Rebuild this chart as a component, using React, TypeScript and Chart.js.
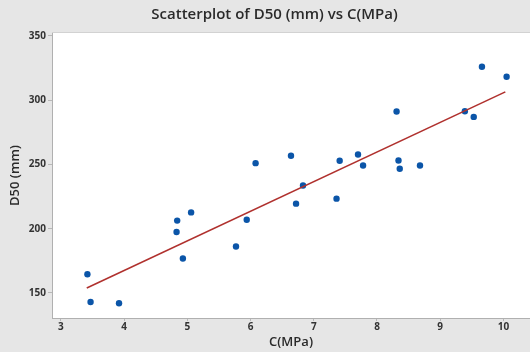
import React, { useEffect, useRef } from "react";
import { Chart, registerables } from "chart.js";

Chart.register(...registerables);

const cValues = [3.42, 3.47, 3.92, 4.83, 4.84, 4.93, 5.06, 5.77, 5.94, 6.08, 6.64, 6.72, 6.83, 7.36, 7.41, 7.70, 7.78, 8.31, 8.34, 8.36, 8.68, 9.39, 9.53, 9.66, 10.05];
const d50Values = [164.6, 143, 142, 197.4, 206.3, 176.8, 212.7, 186.2, 207, 251, 256.8, 219.5, 233.6, 223.4, 252.9, 257.8, 249.2, 291.2, 253.1, 246.6, 249.2, 291.4, 287, 326, 318.2];
const fitX = [3.41, 10.03];
const fitY = [153.9, 306.5];
const xTicks = [3, 4, 5, 6, 7, 8, 9, 10];
const yTicks = [150, 200, 250, 300, 350];

const TITLE = "Scatterplot of D50 (mm) vs C(MPa)";
const FONT = "'Open Sans', 'DejaVu Sans', sans-serif";

export default function App() {
  const ref = useRef<HTMLCanvasElement | null>(null);
  useEffect(() => {
    document.body.style.margin = "0";
    const canvas = ref.current!;
    const bgPlugin = {
      id: "bg",
      beforeDraw(chart: any) {
        const { ctx, chartArea: a } = chart;
        ctx.save();
        ctx.fillStyle = "#e6e6e6";
        ctx.fillRect(0, 0, chart.width, chart.height);
        ctx.fillStyle = "#ffffff";
        ctx.fillRect(a.left, a.top, a.right - a.left, a.bottom - a.top);
        ctx.strokeStyle = "#d2d2d2";
        ctx.lineWidth = 1;
        ctx.beginPath();
        ctx.moveTo(a.left, a.top - 0.5);
        ctx.lineTo(a.right, a.top - 0.5);
        ctx.stroke();
        ctx.restore();
      },
      afterDraw(chart: any) {
        const { ctx } = chart;
        ctx.save();
        ctx.fillStyle = "#2a2a2a";
        ctx.font = `600 15px ${FONT}`;
        ctx.textAlign = "center";
        ctx.textBaseline = "middle";
        ctx.fillText(TITLE, 274.5, 14.5);
        ctx.restore();
      },
    };
    const chart = new Chart(canvas, {
      type: "scatter",
      data: {
        datasets: [
          {
            type: "line",
            label: "Fit",
            data: fitX.map((x, i) => ({ x, y: fitY[i] })),
            borderColor: "#b0312e",
            borderWidth: 1.6,
            pointRadius: 0,
            fill: false,
          } as any,
          {
            label: "D50",
            data: cValues.map((x, i) => ({ x, y: d50Values[i] })),
            backgroundColor: "#0b55a8",
            borderColor: "#0b55a8",
            pointRadius: 3.2,
            borderWidth: 0,
          },
        ],
      },
      options: {
        animation: false,
        responsive: false,
        layout: { autoPadding: false, padding: { top: 33, left: 0, right: 0, bottom: 0 } },
        plugins: { legend: { display: false }, tooltip: { enabled: false }, title: { display: false } },
        scales: {
          x: {
            type: "linear",
            min: 2.86,
            max: 10.42,
            afterBuildTicks: (s: any) => { s.ticks = xTicks.map((v) => ({ value: v })); },
            afterFit: (s: any) => { s.height = 34; s.paddingRight = 0; s.paddingLeft = 0; },
            grid: { drawOnChartArea: false, drawTicks: true, tickLength: 3, color: "#b8b8b8" },
            border: { display: true, color: "#b0b0b0" },
            ticks: { autoSkip: false, maxRotation: 0, padding: 0, color: "#333333", font: { family: FONT, size: 10, weight: "bold" } },
            title: { display: true, text: "C(MPa)", color: "#2a2a2a", padding: { top: 0, bottom: 2 }, font: { family: FONT, size: 13, weight: "600" } },
          },
          y: {
            type: "linear",
            min: 130.5,
            max: 352.3,
            afterBuildTicks: (s: any) => { s.ticks = yTicks.map((v) => ({ value: v })); },
            afterFit: (s: any) => { s.width = 52; },
            grid: { drawOnChartArea: false, drawTicks: true, tickLength: 4, color: "#b8b8b8" },
            border: { display: true, color: "#b0b0b0" },
            ticks: { autoSkip: false, padding: 2, color: "#333333", font: { family: FONT, size: 10, weight: "bold" } },
            title: { display: true, text: "D50 (mm)", color: "#2a2a2a", padding: { top: 7, bottom: 0 }, font: { family: FONT, size: 13, weight: "600" } },
          },
        },
      },
      plugins: [bgPlugin],
    });
    return () => chart.destroy();
  }, []);
  return <canvas ref={ref} width={530} height={352} style={{ display: "block" }} />;
}
